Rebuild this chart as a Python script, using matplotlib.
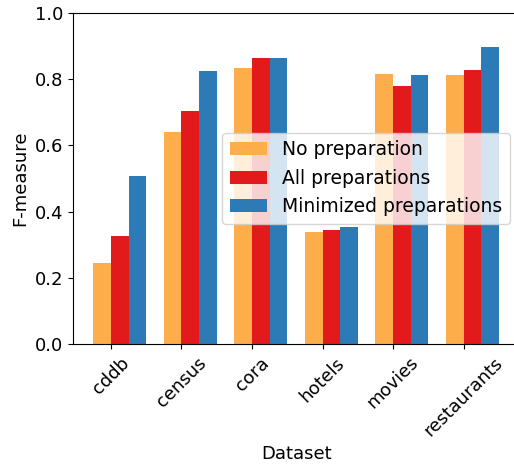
import matplotlib
matplotlib.use('Agg')
import matplotlib.pyplot as plt
import numpy as np

datasets = ['cddb', 'census', 'cora', 'hotels', 'movies', 'restaurants']
no_prep = [0.245, 0.640, 0.833, 0.338, 0.816, 0.813]
all_prep = [0.326, 0.705, 0.865, 0.344, 0.779, 0.828]
min_prep = [0.507, 0.826, 0.865, 0.353, 0.813, 0.897]

colors = ['#fdae4b', '#e31a1c', '#2c7bb6']
labels = ['No preparation', 'All preparations', 'Minimized preparations']

plt.rcParams['font.size'] = 13

fig = plt.figure(figsize=(5.14, 4.66), dpi=100)
ax = fig.add_axes([0.142, 0.2618, 0.868, 0.710])

x = np.arange(len(datasets))
w = 0.25
for i, (vals, c, lab) in enumerate(zip([no_prep, all_prep, min_prep], colors, labels)):
    ax.bar(x + (i - 1) * w, vals, w, align='edge', color=c, label=lab)

ax.set_ylim(0, 1.0)
ax.set_xticks(x)
ax.set_xticklabels(datasets, rotation=45)
ax.set_xlabel('Dataset')
ax.set_ylabel('F-measure')
ax.spines['right'].set_visible(False)

ax.legend(loc='center right', bbox_to_anchor=(510 / 514, 1 - 178.3 / 466),
          bbox_transform=fig.transFigure, borderaxespad=0, fontsize=13.5)

fig.savefig('out.png', dpi=100)
